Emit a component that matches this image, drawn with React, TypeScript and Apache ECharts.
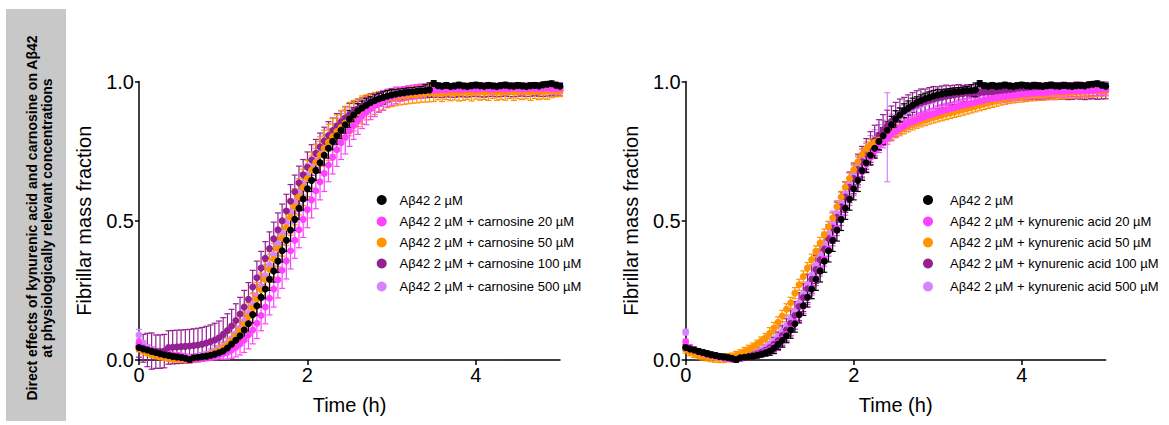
import React, { useEffect, useRef } from "react";
import * as echarts from "echarts";

// sampling interval of the kinetic reads (hours)
const TIME_STEP = 0.05;

// ---- shared control: Aβ42 2 µM ----
const CONTROL = [
  0.045, 0.040, 0.036, 0.031, 0.027, 0.023, 0.019, 0.016, 0.013, 0.011,
  0.009, 0.006, 0.002, 0.008, 0.010, 0.012, 0.014, 0.017, 0.021, 0.026,
  0.032, 0.043, 0.057, 0.071, 0.087, 0.108, 0.130, 0.163, 0.195, 0.225,
  0.255, 0.290, 0.320, 0.355, 0.392, 0.430, 0.467, 0.505, 0.545, 0.578,
  0.615, 0.645, 0.680, 0.708, 0.735, 0.760, 0.785, 0.805, 0.825, 0.845,
  0.865, 0.880, 0.895, 0.905, 0.915, 0.925, 0.932, 0.938, 0.943, 0.948,
  0.952, 0.955, 0.958, 0.960, 0.962, 0.963, 0.965, 0.967, 0.968, 0.970,
  0.993, 0.985, 0.983, 0.986, 0.982, 0.984, 0.987, 0.984, 0.982, 0.985,
  0.987, 0.985, 0.983, 0.986, 0.984, 0.982, 0.985, 0.987, 0.984, 0.983,
  0.986, 0.984, 0.982, 0.985, 0.986, 0.984, 0.988, 0.990, 0.992, 0.987, 0.983,
];
const CONTROL_ERR = [
  0.01, 0.01, 0.01, 0.01, 0.01, 0.01, 0.01, 0.01, 0.01, 0.01,
  0.01, 0.01, 0.01, 0.01, 0.01, 0.01, 0.01, 0.01, 0.01, 0.012,
  0.015, 0.02, 0.02, 0.025, 0.025, 0.03, 0.03, 0.03, 0.035, 0.035,
  0.035, 0.04, 0.04, 0.04, 0.04, 0.04, 0.04, 0.04, 0.04, 0.04,
  0.04, 0.04, 0.035, 0.035, 0.035, 0.035, 0.03, 0.03, 0.03, 0.03,
  0.03, 0.025, 0.025, 0.025, 0.025, 0.02, 0.02, 0.02, 0.02, 0.02,
  0.02, 0.015, 0.015, 0.015, 0.015, 0.015, 0.015, 0.015, 0.02, 0.025,
  0.01, 0.01, 0.01, 0.01, 0.01, 0.01, 0.01, 0.01, 0.01, 0.01,
  0.01, 0.01, 0.01, 0.01, 0.01, 0.01, 0.01, 0.01, 0.01, 0.01,
  0.01, 0.01, 0.01, 0.01, 0.01, 0.01, 0.01, 0.01, 0.01, 0.01, 0.01,
];

// ---- left panel: carnosine ----
const CARN_20 = [
  0.060, 0.045, 0.038, 0.032, 0.027, 0.023, 0.019, 0.016, 0.013, 0.011,
  0.009, 0.007, 0.004, 0.006, 0.008, 0.010, 0.012, 0.014, 0.016, 0.019,
  0.023, 0.028, 0.036, 0.046, 0.058, 0.072, 0.090, 0.108, 0.132, 0.160,
  0.190, 0.222, 0.255, 0.288, 0.322, 0.356, 0.392, 0.430, 0.468, 0.505,
  0.540, 0.575, 0.608, 0.640, 0.670, 0.700, 0.728, 0.755, 0.780, 0.800,
  0.822, 0.842, 0.860, 0.876, 0.890, 0.903, 0.914, 0.924, 0.932, 0.939,
  0.945, 0.950, 0.954, 0.957, 0.960, 0.962, 0.964, 0.966, 0.967, 0.968,
  0.969, 0.970, 0.971, 0.970, 0.972, 0.973, 0.971, 0.972, 0.974, 0.973,
  0.972, 0.974, 0.975, 0.973, 0.972, 0.974, 0.975, 0.973, 0.974, 0.976,
  0.975, 0.973, 0.974, 0.976, 0.975, 0.974, 0.976, 0.977, 0.975, 0.974, 0.976,
];
const CARN_20_ERR = [
  0.015, 0.015, 0.015, 0.015, 0.015, 0.015, 0.015, 0.015, 0.015, 0.015,
  0.015, 0.015, 0.015, 0.015, 0.015, 0.015, 0.015, 0.015, 0.015, 0.015,
  0.02, 0.025, 0.03, 0.035, 0.04, 0.045, 0.05, 0.05, 0.055, 0.055,
  0.06, 0.06, 0.065, 0.065, 0.065, 0.065, 0.065, 0.065, 0.065, 0.065,
  0.065, 0.065, 0.065, 0.065, 0.065, 0.06, 0.06, 0.06, 0.06, 0.06,
  0.055, 0.05, 0.05, 0.045, 0.045, 0.04, 0.04, 0.035, 0.035, 0.03,
  0.03, 0.03, 0.025, 0.025, 0.025, 0.025, 0.025, 0.025, 0.025, 0.025,
  0.02, 0.02, 0.02, 0.02, 0.02, 0.02, 0.02, 0.02, 0.02, 0.02,
  0.02, 0.02, 0.02, 0.02, 0.02, 0.02, 0.02, 0.02, 0.02, 0.02,
  0.02, 0.02, 0.02, 0.02, 0.02, 0.02, 0.02, 0.02, 0.02, 0.02, 0.02,
];
const CARN_50 = [
  0.040, 0.032, 0.026, 0.020, 0.015, 0.012, 0.009, 0.006, 0.004, 0.003,
  0.002, 0.002, 0.003, 0.005, 0.008, 0.011, 0.015, 0.020, 0.026, 0.033,
  0.042, 0.054, 0.068, 0.085, 0.105, 0.128, 0.155, 0.186, 0.218, 0.252,
  0.288, 0.325, 0.362, 0.400, 0.438, 0.476, 0.513, 0.550, 0.586, 0.620,
  0.652, 0.682, 0.710, 0.736, 0.760, 0.782, 0.802, 0.820, 0.836, 0.851,
  0.865, 0.877, 0.888, 0.898, 0.907, 0.914, 0.921, 0.927, 0.932, 0.936,
  0.940, 0.943, 0.946, 0.948, 0.950, 0.952, 0.953, 0.955, 0.956, 0.957,
  0.958, 0.959, 0.958, 0.960, 0.961, 0.959, 0.960, 0.962, 0.961, 0.960,
  0.962, 0.963, 0.961, 0.962, 0.964, 0.962, 0.961, 0.963, 0.964, 0.962,
  0.963, 0.965, 0.963, 0.962, 0.964, 0.965, 0.963, 0.966, 0.967, 0.965, 0.966,
];
const CARN_50_ERR = [
  0.01, 0.01, 0.01, 0.01, 0.01, 0.01, 0.01, 0.01, 0.01, 0.01,
  0.01, 0.01, 0.01, 0.01, 0.01, 0.01, 0.012, 0.014, 0.016, 0.018,
  0.02, 0.025, 0.03, 0.035, 0.04, 0.045, 0.05, 0.055, 0.06, 0.06,
  0.065, 0.065, 0.065, 0.065, 0.065, 0.065, 0.065, 0.065, 0.065, 0.065,
  0.065, 0.065, 0.065, 0.065, 0.065, 0.065, 0.065, 0.06, 0.06, 0.06,
  0.06, 0.055, 0.05, 0.05, 0.045, 0.04, 0.04, 0.035, 0.035, 0.03,
  0.03, 0.03, 0.03, 0.03, 0.03, 0.03, 0.03, 0.03, 0.03, 0.03,
  0.03, 0.025, 0.03, 0.025, 0.03, 0.025, 0.03, 0.03, 0.025, 0.03,
  0.025, 0.03, 0.025, 0.03, 0.025, 0.03, 0.025, 0.03, 0.025, 0.03,
  0.025, 0.03, 0.025, 0.03, 0.025, 0.03, 0.025, 0.03, 0.025, 0.02, 0.02,
];
const CARN_100 = [
  0.050, 0.042, 0.036, 0.032, 0.030, 0.030, 0.032, 0.045, 0.046, 0.047,
  0.048, 0.049, 0.050, 0.052, 0.054, 0.057, 0.061, 0.066, 0.072, 0.080,
  0.092, 0.106, 0.122, 0.142, 0.165, 0.190, 0.218, 0.262, 0.295, 0.330,
  0.365, 0.400, 0.435, 0.468, 0.500, 0.535, 0.570, 0.604, 0.636, 0.665,
  0.692, 0.718, 0.742, 0.765, 0.786, 0.806, 0.824, 0.840, 0.855, 0.869,
  0.881, 0.892, 0.902, 0.911, 0.919, 0.926, 0.932, 0.937, 0.942, 0.946,
  0.950, 0.953, 0.955, 0.957, 0.958, 0.959, 0.960, 0.961, 0.962, 0.963,
  0.963, 0.964, 0.962, 0.965, 0.964, 0.963, 0.966, 0.965, 0.964, 0.966,
  0.967, 0.965, 0.964, 0.966, 0.967, 0.965, 0.966, 0.968, 0.966, 0.965,
  0.967, 0.968, 0.966, 0.967, 0.969, 0.967, 0.966, 0.968, 0.969, 0.967, 0.968,
];
const CARN_100_ERR = [
  0.04, 0.05, 0.06, 0.065, 0.06, 0.06, 0.06, 0.06, 0.06, 0.06,
  0.06, 0.06, 0.06, 0.06, 0.06, 0.06, 0.06, 0.06, 0.06, 0.06,
  0.06, 0.06, 0.06, 0.06, 0.06, 0.06, 0.06, 0.06, 0.06, 0.06,
  0.06, 0.06, 0.06, 0.06, 0.06, 0.06, 0.06, 0.06, 0.06, 0.055,
  0.055, 0.055, 0.05, 0.05, 0.05, 0.05, 0.045, 0.045, 0.04, 0.04,
  0.04, 0.035, 0.035, 0.03, 0.03, 0.03, 0.025, 0.025, 0.025, 0.02,
  0.02, 0.02, 0.02, 0.02, 0.02, 0.02, 0.02, 0.02, 0.02, 0.02,
  0.02, 0.02, 0.02, 0.02, 0.02, 0.02, 0.02, 0.02, 0.02, 0.02,
  0.02, 0.02, 0.02, 0.02, 0.02, 0.02, 0.02, 0.02, 0.02, 0.02,
  0.02, 0.02, 0.02, 0.02, 0.02, 0.02, 0.02, 0.02, 0.02, 0.02, 0.02,
];
const CARN_500 = [
  0.090, 0.060, 0.045, 0.036, 0.029, 0.024, 0.020, 0.016, 0.013, 0.011,
  0.009, 0.008, 0.008, 0.010, 0.013, 0.016, 0.020, 0.025, 0.031, 0.039,
  0.049, 0.062, 0.077, 0.095, 0.116, 0.140, 0.167, 0.197, 0.230, 0.265,
  0.302, 0.340, 0.378, 0.417, 0.455, 0.493, 0.530, 0.566, 0.600, 0.633,
  0.664, 0.693, 0.720, 0.745, 0.768, 0.790, 0.810, 0.828, 0.845, 0.860,
  0.874, 0.887, 0.898, 0.908, 0.917, 0.925, 0.932, 0.938, 0.943, 0.948,
  0.952, 0.956, 0.959, 0.961, 0.963, 0.965, 0.967, 0.968, 0.969, 0.970,
  0.971, 0.972, 0.971, 0.973, 0.972, 0.974, 0.973, 0.972, 0.974, 0.975,
  0.973, 0.974, 0.976, 0.975, 0.974, 0.976, 0.975, 0.977, 0.976, 0.975,
  0.977, 0.976, 0.978, 0.977, 0.976, 0.978, 0.977, 0.979, 0.978, 0.977, 0.978,
];
const CARN_500_ERR = [
  0.02, 0.01, 0.01, 0.01, 0.01, 0.01, 0.01, 0.01, 0.01, 0.01,
  0.01, 0.01, 0.01, 0.01, 0.01, 0.01, 0.01, 0.015, 0.02, 0.025,
  0.03, 0.035, 0.04, 0.04, 0.04, 0.04, 0.04, 0.04, 0.04, 0.04,
  0.04, 0.04, 0.04, 0.04, 0.04, 0.04, 0.04, 0.04, 0.04, 0.04,
  0.04, 0.04, 0.04, 0.04, 0.04, 0.04, 0.04, 0.04, 0.04, 0.04,
  0.035, 0.035, 0.03, 0.03, 0.03, 0.03, 0.025, 0.025, 0.025, 0.025,
  0.02, 0.02, 0.02, 0.02, 0.02, 0.02, 0.02, 0.02, 0.02, 0.02,
  0.015, 0.015, 0.015, 0.015, 0.015, 0.015, 0.015, 0.015, 0.015, 0.015,
  0.015, 0.015, 0.015, 0.015, 0.015, 0.015, 0.015, 0.015, 0.015, 0.015,
  0.015, 0.015, 0.015, 0.015, 0.015, 0.015, 0.015, 0.015, 0.015, 0.015, 0.015,
];

// ---- right panel: kynurenic acid ----
const KYN_20 = [
  0.065, 0.045, 0.036, 0.030, 0.025, 0.021, 0.017, 0.014, 0.011, 0.008,
  0.006, 0.004, 0.003, 0.006, 0.009, 0.012, 0.015, 0.019, 0.024, 0.030,
  0.038, 0.048, 0.060, 0.075, 0.092, 0.112, 0.135, 0.162, 0.192, 0.224,
  0.258, 0.292, 0.326, 0.362, 0.398, 0.435, 0.472, 0.508, 0.545, 0.580,
  0.615, 0.645, 0.675, 0.702, 0.727, 0.750, 0.770, 0.787, 0.800, 0.812,
  0.822, 0.832, 0.841, 0.849, 0.856, 0.862, 0.868, 0.874, 0.879, 0.884,
  0.889, 0.894, 0.898, 0.902, 0.906, 0.910, 0.914, 0.918, 0.922, 0.926,
  0.930, 0.933, 0.936, 0.939, 0.942, 0.944, 0.946, 0.948, 0.950, 0.952,
  0.954, 0.955, 0.957, 0.958, 0.959, 0.960, 0.961, 0.962, 0.963, 0.964,
  0.964, 0.965, 0.966, 0.966, 0.967, 0.968, 0.968, 0.969, 0.970, 0.971, 0.972,
];
const KYN_20_ERR = [
  0.01, 0.01, 0.01, 0.01, 0.01, 0.01, 0.01, 0.01, 0.01, 0.01,
  0.01, 0.01, 0.01, 0.01, 0.01, 0.01, 0.01, 0.01, 0.012, 0.015,
  0.02, 0.02, 0.025, 0.025, 0.025, 0.025, 0.025, 0.025, 0.025, 0.025,
  0.025, 0.025, 0.025, 0.025, 0.025, 0.025, 0.025, 0.025, 0.025, 0.025,
  0.025, 0.025, 0.025, 0.025, 0.025, 0.025, 0.025, 0.025, 0.025, 0.025,
  0.02, 0.02, 0.02, 0.02, 0.02, 0.02, 0.02, 0.02, 0.02, 0.02,
  0.02, 0.02, 0.02, 0.02, 0.02, 0.02, 0.02, 0.02, 0.02, 0.02,
  0.02, 0.02, 0.02, 0.02, 0.02, 0.02, 0.02, 0.02, 0.02, 0.02,
  0.02, 0.02, 0.02, 0.02, 0.02, 0.02, 0.02, 0.02, 0.02, 0.02,
  0.02, 0.02, 0.02, 0.02, 0.02, 0.02, 0.02, 0.02, 0.02, 0.02, 0.02,
];
const KYN_50 = [
  0.040, 0.030, 0.024, 0.019, 0.015, 0.012, 0.009, 0.007, 0.006, 0.006,
  0.008, 0.010, 0.016, 0.022, 0.030, 0.038, 0.046, 0.056, 0.068, 0.080,
  0.096, 0.115, 0.135, 0.158, 0.182, 0.205, 0.240, 0.270, 0.300, 0.330,
  0.360, 0.390, 0.420, 0.450, 0.478, 0.510, 0.550, 0.585, 0.620, 0.652,
  0.683, 0.712, 0.738, 0.758, 0.772, 0.782, 0.790, 0.797, 0.804, 0.811,
  0.818, 0.825, 0.832, 0.839, 0.846, 0.852, 0.857, 0.862, 0.867, 0.871,
  0.875, 0.879, 0.883, 0.887, 0.891, 0.895, 0.899, 0.903, 0.907, 0.911,
  0.915, 0.919, 0.923, 0.927, 0.931, 0.935, 0.938, 0.941, 0.943, 0.945,
  0.946, 0.948, 0.950, 0.951, 0.952, 0.953, 0.954, 0.955, 0.956, 0.957,
  0.958, 0.959, 0.960, 0.961, 0.962, 0.963, 0.964, 0.965, 0.966, 0.967, 0.968,
];
const KYN_50_ERR = [
  0.015, 0.015, 0.015, 0.015, 0.015, 0.015, 0.015, 0.015, 0.015, 0.015,
  0.015, 0.015, 0.015, 0.015, 0.015, 0.015, 0.015, 0.015, 0.015, 0.015,
  0.02, 0.02, 0.02, 0.02, 0.02, 0.02, 0.02, 0.02, 0.02, 0.02,
  0.02, 0.02, 0.02, 0.02, 0.02, 0.02, 0.02, 0.02, 0.02, 0.02,
  0.02, 0.02, 0.02, 0.02, 0.02, 0.02, 0.02, 0.02, 0.02, 0.02,
  0.02, 0.02, 0.02, 0.02, 0.02, 0.02, 0.02, 0.02, 0.02, 0.02,
  0.02, 0.02, 0.02, 0.02, 0.02, 0.02, 0.02, 0.02, 0.02, 0.02,
  0.02, 0.02, 0.02, 0.02, 0.02, 0.02, 0.02, 0.02, 0.02, 0.02,
  0.02, 0.02, 0.02, 0.02, 0.02, 0.02, 0.02, 0.02, 0.02, 0.02,
  0.02, 0.02, 0.02, 0.02, 0.02, 0.02, 0.02, 0.02, 0.02, 0.02, 0.02,
];
const KYN_100 = [
  0.042, 0.036, 0.031, 0.027, 0.023, 0.019, 0.016, 0.013, 0.011, 0.009,
  0.007, 0.005, 0.004, 0.008, 0.011, 0.014, 0.018, 0.022, 0.028, 0.035,
  0.044, 0.056, 0.070, 0.088, 0.108, 0.132, 0.160, 0.192, 0.224, 0.256,
  0.290, 0.325, 0.360, 0.398, 0.436, 0.474, 0.512, 0.550, 0.585, 0.620,
  0.652, 0.684, 0.712, 0.740, 0.765, 0.788, 0.808, 0.826, 0.842, 0.857,
  0.870, 0.882, 0.893, 0.902, 0.910, 0.917, 0.923, 0.928, 0.933, 0.937,
  0.941, 0.944, 0.947, 0.950, 0.952, 0.954, 0.956, 0.958, 0.959, 0.960,
  0.961, 0.962, 0.963, 0.962, 0.964, 0.963, 0.965, 0.964, 0.963, 0.965,
  0.966, 0.964, 0.965, 0.967, 0.966, 0.964, 0.966, 0.967, 0.965, 0.966,
  0.967, 0.965, 0.966, 0.968, 0.967, 0.965, 0.967, 0.968, 0.966, 0.967, 0.968,
];
const KYN_100_ERR = [
  0.01, 0.01, 0.01, 0.01, 0.01, 0.01, 0.01, 0.01, 0.01, 0.01,
  0.01, 0.01, 0.01, 0.01, 0.01, 0.01, 0.01, 0.012, 0.015, 0.018,
  0.02, 0.025, 0.03, 0.035, 0.04, 0.045, 0.05, 0.05, 0.05, 0.05,
  0.05, 0.05, 0.05, 0.05, 0.05, 0.055, 0.055, 0.055, 0.055, 0.055,
  0.055, 0.055, 0.055, 0.055, 0.055, 0.055, 0.055, 0.055, 0.055, 0.055,
  0.055, 0.055, 0.05, 0.05, 0.05, 0.05, 0.05, 0.045, 0.045, 0.045,
  0.04, 0.04, 0.04, 0.035, 0.035, 0.035, 0.03, 0.03, 0.03, 0.03,
  0.03, 0.03, 0.03, 0.03, 0.03, 0.03, 0.03, 0.03, 0.03, 0.03,
  0.03, 0.03, 0.03, 0.03, 0.03, 0.03, 0.03, 0.03, 0.03, 0.03,
  0.03, 0.03, 0.03, 0.03, 0.03, 0.03, 0.03, 0.03, 0.03, 0.03, 0.03,
];
const KYN_500 = [
  0.100, 0.045, 0.034, 0.028, 0.023, 0.019, 0.016, 0.013, 0.010, 0.008,
  0.006, 0.005, 0.006, 0.009, 0.013, 0.017, 0.022, 0.028, 0.035, 0.044,
  0.055, 0.068, 0.084, 0.102, 0.124, 0.148, 0.175, 0.205, 0.237, 0.270,
  0.305, 0.340, 0.377, 0.414, 0.452, 0.490, 0.527, 0.563, 0.598, 0.632,
  0.664, 0.694, 0.722, 0.748, 0.771, 0.792, 0.810, 0.826, 0.800, 0.853,
  0.865, 0.875, 0.885, 0.894, 0.902, 0.909, 0.916, 0.922, 0.928, 0.933,
  0.938, 0.942, 0.946, 0.949, 0.952, 0.955, 0.957, 0.959, 0.961, 0.962,
  0.963, 0.964, 0.966, 0.965, 0.967, 0.966, 0.968, 0.967, 0.969, 0.968,
  0.969, 0.970, 0.969, 0.971, 0.970, 0.972, 0.971, 0.970, 0.972, 0.973,
  0.972, 0.974, 0.973, 0.972, 0.974, 0.975, 0.973, 0.975, 0.976, 0.974, 0.976,
];
const KYN_500_ERR = [
  0.01, 0.01, 0.01, 0.01, 0.01, 0.01, 0.01, 0.01, 0.01, 0.01,
  0.01, 0.01, 0.01, 0.01, 0.01, 0.01, 0.012, 0.015, 0.02, 0.025,
  0.03, 0.035, 0.035, 0.035, 0.035, 0.035, 0.035, 0.035, 0.035, 0.035,
  0.035, 0.04, 0.04, 0.045, 0.045, 0.045, 0.045, 0.04, 0.04, 0.04,
  0.035, 0.035, 0.035, 0.035, 0.035, 0.035, 0.035, 0.035, 0.16, 0.03,
  0.03, 0.03, 0.03, 0.03, 0.03, 0.03, 0.03, 0.03, 0.03, 0.03,
  0.025, 0.025, 0.025, 0.025, 0.025, 0.02, 0.02, 0.02, 0.02, 0.02,
  0.015, 0.015, 0.015, 0.015, 0.015, 0.015, 0.015, 0.015, 0.015, 0.015,
  0.015, 0.015, 0.015, 0.015, 0.015, 0.015, 0.015, 0.015, 0.015, 0.015,
  0.015, 0.015, 0.015, 0.015, 0.015, 0.015, 0.015, 0.015, 0.015, 0.015, 0.015,
];

const X_TICKS = [0, 2, 4];
const Y_TICKS = [0, 0.5, 1.0];

const CAPTION_LINES = [
  "Direct effects of kynurenic acid and carnosine on Aβ42",
  "at physiologically relevant concentrations",
];
const LEFT_LABELS = [
  "Aβ42 2 µM",
  "Aβ42 2 µM + carnosine 20 µM",
  "Aβ42 2 µM + carnosine 50 µM",
  "Aβ42 2 µM + carnosine 100 µM",
  "Aβ42 2 µM + carnosine 500 µM",
];
const RIGHT_LABELS = [
  "Aβ42 2 µM",
  "Aβ42 2 µM + kynurenic acid 20 µM",
  "Aβ42 2 µM + kynurenic acid 50 µM",
  "Aβ42 2 µM + kynurenic acid 100 µM",
  "Aβ42 2 µM + kynurenic acid 500 µM",
];
const COLORS = ["#000000", "#FF40FF", "#FF9300", "#942192", "#D783FF"];

const FONT = "'Liberation Sans', Arial, Helvetica, sans-serif";

type Dataset = { values: number[]; errs: number[] };
const LEFT_SETS: Dataset[] = [
  { values: CONTROL, errs: CONTROL_ERR },
  { values: CARN_20, errs: CARN_20_ERR },
  { values: CARN_50, errs: CARN_50_ERR },
  { values: CARN_100, errs: CARN_100_ERR },
  { values: CARN_500, errs: CARN_500_ERR },
];
const RIGHT_SETS: Dataset[] = [
  { values: CONTROL, errs: CONTROL_ERR },
  { values: KYN_20, errs: KYN_20_ERR },
  { values: KYN_50, errs: KYN_50_ERR },
  { values: KYN_100, errs: KYN_100_ERR },
  { values: KYN_500, errs: KYN_500_ERR },
];

function toPoints(ds: Dataset) {
  return ds.values.map((v, i) => [Math.round(i * TIME_STEP * 100) / 100, v, ds.errs[i]]);
}

function errorRenderer(color: string) {
  return (params: any, api: any) => {
    const x = api.value(0);
    const y = api.value(1);
    const e = api.value(2);
    const top = api.coord([x, y + e]);
    const bot = api.coord([x, y - e]);
    const w = 3;
    const style = { stroke: color, lineWidth: 1.2, fill: null };
    return {
      type: "group",
      children: [
        { type: "line", shape: { x1: top[0], y1: top[1], x2: bot[0], y2: bot[1] }, style },
        { type: "line", shape: { x1: top[0] - w, y1: top[1], x2: top[0] + w, y2: top[1] }, style },
        { type: "line", shape: { x1: bot[0] - w, y1: bot[1], x2: bot[0] + w, y2: bot[1] }, style },
      ],
    };
  };
}

function buildSeries(sets: Dataset[], axisIndex: number) {
  const out: any[] = [];
  // draw back-to-front: last dataset at back, control in front
  for (let k = sets.length - 1; k >= 0; k--) {
    const pts = toPoints(sets[k]);
    out.push({
      type: "custom",
      xAxisIndex: axisIndex,
      yAxisIndex: axisIndex,
      renderItem: errorRenderer(COLORS[k]),
      data: pts,
      encode: { x: 0, y: 1 },
      clip: false,
      silent: true,
    });
    out.push({
      type: "scatter",
      xAxisIndex: axisIndex,
      yAxisIndex: axisIndex,
      data: pts.map((p) => [p[0], p[1]]),
      symbol: "circle",
      symbolSize: 7,
      itemStyle: { color: COLORS[k], opacity: 1 },
      silent: true,
    });
  }
  return out;
}

function legendGraphics(markerX: number, textX: number, labels: string[]) {
  const ys = [200, 221.5, 242.5, 263.5, 286.5];
  const els: any[] = [];
  labels.forEach((lab, i) => {
    els.push({
      type: "circle",
      shape: { cx: markerX, cy: ys[i], r: 5 },
      style: { fill: COLORS[i] },
      silent: true,
    });
    els.push({
      type: "text",
      x: textX,
      y: ys[i],
      style: {
        text: lab,
        fill: "#000",
        font: `13px ${FONT}`,
        textAlign: "left",
        textVerticalAlign: "middle",
      },
      silent: true,
    });
  });
  return els;
}

const axisLineStyle = { color: "#000", width: 1.5 };

function xAxisDef(gridIndex: number) {
  return {
    type: "value",
    gridIndex,
    min: 0,
    max: 5,
    axisLine: { show: true, onZero: false, lineStyle: axisLineStyle },
    axisTick: { show: true, customValues: X_TICKS, length: 5, lineStyle: axisLineStyle },
    axisLabel: { customValues: X_TICKS, fontSize: 20, color: "#000", fontFamily: FONT, margin: 5 },
    splitLine: { show: false },
    name: "Time (h)",
    nameLocation: "middle",
    nameGap: 35,
    nameTextStyle: { fontSize: 20, color: "#000", fontFamily: FONT },
  };
}
function yAxisDef(gridIndex: number) {
  return {
    type: "value",
    gridIndex,
    min: 0,
    max: 1,
    interval: 0.5,
    axisLine: { show: true, onZero: false, lineStyle: axisLineStyle },
    axisTick: { show: true, customValues: Y_TICKS, length: 4, lineStyle: axisLineStyle },
    axisLabel: {
      customValues: Y_TICKS,
      fontSize: 20,
      color: "#000",
      fontFamily: FONT,
      margin: 5,
      formatter: (v: number) => v.toFixed(1),
    },
    splitLine: { show: false },
    name: "Fibrillar mass fraction",
    nameLocation: "middle",
    nameGap: 45,
    nameTextStyle: { fontSize: 20, color: "#000", fontFamily: FONT },
  };
}

export default function App() {
  const ref = useRef<HTMLDivElement>(null);
  useEffect(() => {
    if (!ref.current) return;
    const chart = echarts.init(ref.current, undefined, { renderer: "svg" });
    chart.setOption({
      animation: false,
      backgroundColor: "#ffffff",
      textStyle: { fontFamily: FONT },
      grid: [
        { left: 139, top: 81.5, width: 421, height: 278.5 },
        { left: 685.7, top: 81.5, width: 420, height: 278.5 },
      ],
      xAxis: [xAxisDef(0), xAxisDef(1)],
      yAxis: [yAxisDef(0), yAxisDef(1)],
      series: [...buildSeries(LEFT_SETS, 0), ...buildSeries(RIGHT_SETS, 1)],
      graphic: [
        {
          type: "rect",
          shape: { x: 6, y: 9, width: 60, height: 412 },
          style: { fill: "#c8c8c8" },
          silent: true,
          z: -10,
        },
        {
          type: "text",
          x: 39,
          y: 218,
          rotation: Math.PI / 2,
          style: {
            text: CAPTION_LINES.join("\n"),
            fill: "#000",
            font: `bold 14px ${FONT}`,
            textAlign: "center",
            textVerticalAlign: "middle",
            lineHeight: 15,
          },
          silent: true,
        },
        ...legendGraphics(381.7, 399.5, LEFT_LABELS),
        ...legendGraphics(928, 950, RIGHT_LABELS),
      ],
    });
    return () => chart.dispose();
  }, []);
  return (
    <div
      ref={ref}
      style={{ position: "fixed", left: 0, top: 0, width: 1169, height: 425, background: "#fff" }}
    />
  );
}
